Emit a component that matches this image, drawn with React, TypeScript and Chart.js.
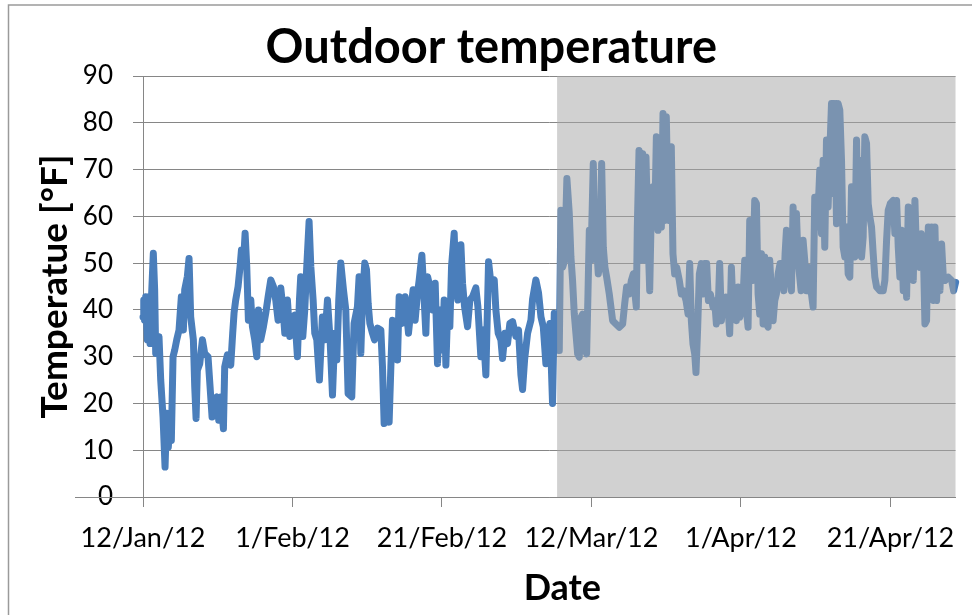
import { useEffect, useRef } from 'react';
import { Chart, registerables } from 'chart.js';

Chart.register(...registerables);

// Days since 12/Jan/12
const days = [
  0.0, 0.1, 0.2, 0.36, 0.58, 0.8, 0.94, 1.12, 1.38, 1.56,
  1.7, 1.92, 2.14, 2.37, 2.68, 2.95, 3.17, 3.39, 3.61, 3.79,
  4.02, 4.24, 4.51, 4.82, 5.13, 5.4, 5.58, 5.93, 6.16, 6.38,
  6.74, 6.92, 7.1, 7.27, 7.59, 7.95, 8.25, 8.7, 8.97, 9.24,
  9.51, 9.86, 10.13, 10.4, 10.76, 10.93, 11.29, 11.74, 12.0, 12.18,
  12.4, 12.72, 12.99, 13.17, 13.44, 13.66, 13.88, 14.1, 14.42, 14.64,
  14.95, 15.22, 15.44, 15.75, 16.11, 16.42, 16.74, 17.09, 17.45, 17.76,
  18.07, 18.43, 18.74, 18.97, 19.32, 19.64, 19.99, 20.3, 20.66, 20.93,
  21.1, 21.38, 21.64, 21.91, 22.22, 22.45, 22.76, 22.98, 23.25, 23.6,
  24.0, 24.32, 24.68, 25.03, 25.35, 25.66, 25.93, 26.19, 26.46, 26.82,
  27.13, 27.44, 27.93, 28.24, 28.69, 28.91, 29.14, 29.36, 29.67, 29.9,
  30.12, 30.35, 30.7, 30.97, 31.37, 31.82, 32.04, 32.26, 32.58, 32.93,
  33.16, 33.38, 33.73, 34.05, 34.27, 34.63, 35.07, 35.52, 35.83, 36.14,
  36.41, 36.73, 36.95, 37.31, 37.62, 37.84, 38.07, 38.38, 38.73, 39.09,
  39.4, 39.71, 40.07, 40.29, 40.52, 40.79, 41.05, 41.28, 41.63, 41.86,
  42.12, 42.53, 42.75, 43.02, 43.42, 43.73, 44.09, 44.53, 44.8, 45.2,
  45.51, 45.87, 46.23, 46.54, 46.99, 47.21, 47.52, 47.88, 48.1, 48.42,
  48.77, 49.08, 49.44, 49.89, 50.24, 50.56, 50.78, 51.05, 51.45, 51.9,
  52.12, 52.56, 52.92, 53.24, 53.55, 53.9, 54.17, 54.44, 54.79, 55.02,
  55.24, 55.69, 55.91, 56.14, 56.41, 56.71, 57.03, 57.25, 57.47, 57.7,
  57.92, 58.15, 58.37, 58.59, 58.82, 59.04, 59.35, 59.53, 59.71, 59.93,
  60.24, 60.47, 60.69, 60.91, 61.13, 61.36, 61.58, 61.8, 62.03, 62.38,
  62.83, 63.27, 63.72, 64.17, 64.44, 64.7, 65.06, 65.33, 65.6, 65.82,
  66.0, 66.13, 66.36, 66.62, 66.85, 67.07, 67.29, 67.52, 67.79, 68.01,
  68.23, 68.45, 68.68, 68.9, 69.12, 69.35, 69.57, 69.79, 70.01, 70.24,
  70.46, 70.68, 70.9, 71.13, 71.4, 71.75, 72.02, 72.29, 72.65, 72.92,
  73.14, 73.36, 73.58, 73.81, 73.98, 74.21, 74.43, 74.7, 74.92, 75.14,
  75.41, 75.64, 75.9, 76.26, 76.48, 76.71, 76.93, 77.15, 77.38, 77.64,
  78.0, 78.27, 78.49, 78.72, 78.94, 79.16, 79.38, 79.61, 79.83, 80.24,
  80.5, 80.73, 80.95, 81.17, 81.57, 81.84, 82.07, 82.29, 82.51, 82.74,
  82.96, 83.18, 83.41, 83.63, 83.85, 84.08, 84.3, 84.52, 84.74, 84.97,
  85.23, 85.5, 85.73, 85.9, 86.08, 86.31, 86.53, 86.75, 86.97, 87.2,
  87.42, 87.64, 88.04, 88.31, 88.53, 88.76, 88.98, 89.2, 89.43, 89.65,
  89.87, 90.1, 90.32, 90.54, 90.77, 90.99, 91.21, 91.44, 91.66, 91.88,
  92.11, 92.33, 92.55, 92.78, 93.0, 93.22, 93.45, 93.67, 93.89, 94.12,
  94.34, 94.56, 94.79, 95.01, 95.23, 95.46, 95.68, 95.9, 96.13, 96.35,
  96.57, 96.8, 97.02, 97.24, 97.47, 97.69, 97.91, 98.14, 98.58, 99.03,
  99.25, 99.48, 99.7, 99.97, 100.37, 100.59, 100.82, 101.04, 101.26, 101.49,
  101.71, 101.93, 102.16, 102.38, 102.6, 102.83, 103.05, 103.27, 103.5, 103.9,
  104.12, 104.39, 104.61, 104.83, 105.06, 105.28, 105.5, 105.73, 105.95, 106.17,
  106.4, 106.62, 106.84, 107.07, 107.33, 107.73, 108.18, 108.45, 108.72, 108.95,
];

// Outdoor temperature, °F
const temps = [
  38.5, 42.1, 37.8, 42.8, 33.6, 42.8, 32.8, 42.1, 52.1, 44.3,
  30.7, 32.8, 34.3, 25.0, 17.1, 6.4, 17.9, 10.7, 17.1, 12.1,
  30.0, 31.4, 33.6, 35.7, 42.8, 35.7, 44.3, 47.1, 51.0, 38.5,
  33.6, 23.6, 16.8, 27.1, 28.5, 33.6, 30.7, 30.0, 23.6, 17.1,
  20.7, 21.4, 16.4, 21.4, 14.6, 27.8, 30.4, 28.2, 35.0, 39.3,
  42.1, 45.0, 49.3, 52.8, 50.0, 56.4, 49.3, 37.8, 42.1, 36.4,
  33.6, 30.0, 40.0, 33.6, 36.4, 39.3, 42.8, 46.4, 45.0, 42.1,
  37.8, 44.7, 40.0, 35.0, 42.1, 34.3, 37.1, 38.9, 30.0, 42.1,
  47.1, 34.3, 40.0, 49.3, 58.9, 49.3, 42.1, 35.0, 33.6, 25.0,
  38.5, 33.6, 42.1, 33.6, 21.8, 35.0, 29.3, 42.1, 50.0, 44.3,
  40.0, 22.1, 21.4, 37.1, 40.7, 47.1, 30.7, 42.1, 50.0, 48.6,
  41.4, 37.1, 35.0, 33.6, 36.1, 35.7, 27.8, 15.7, 19.3, 16.0,
  27.8, 37.8, 35.0, 29.3, 42.8, 37.1, 42.8, 35.0, 40.0, 44.3,
  37.8, 43.6, 46.4, 51.7, 42.1, 35.0, 47.1, 45.0, 40.0, 45.7,
  28.5, 40.0, 31.4, 42.1, 28.2, 41.4, 36.4, 49.3, 56.4, 45.7,
  42.1, 53.9, 45.7, 40.7, 36.4, 42.1, 42.8, 44.7, 40.7, 30.0,
  35.7, 26.1, 50.3, 45.7, 46.4, 40.0, 35.0, 33.6, 29.6, 35.0,
  32.8, 37.1, 37.5, 34.3, 35.7, 26.1, 23.0, 29.3, 35.0, 37.8,
  42.3, 46.4, 43.6, 38.5, 36.4, 28.5, 35.0, 37.1, 20.0, 39.3,
  38.0, 31.3, 61.3, 49.1, 50.6, 68.1, 60.6, 51.3, 46.3, 39.1,
  34.9, 30.6, 29.9, 38.4, 39.1, 32.7, 30.6, 43.4, 57.0, 50.6,
  71.3, 54.1, 53.4, 47.7, 49.9, 71.3, 53.4, 49.1, 47.0, 43.4,
  37.7, 37.0, 36.3, 37.0, 41.3, 44.9, 43.4, 46.3, 47.7, 43.4,
  40.6, 57.7, 74.1, 50.6, 73.4, 50.6, 72.7, 57.7, 44.1, 62.0,
  66.3, 57.7, 77.0, 57.0, 75.6, 57.7, 82.0, 59.1, 81.3, 62.7,
  59.1, 74.9, 52.0, 47.7, 49.1, 46.3, 43.4, 44.1, 42.0, 39.1,
  49.9, 37.7, 32.7, 30.6, 26.6, 36.3, 47.7, 49.9, 43.4, 49.9,
  49.9, 42.0, 43.4, 40.6, 42.0, 37.0, 39.1, 49.9, 37.7, 42.0,
  42.7, 40.6, 34.9, 49.1, 39.9, 44.1, 37.7, 44.9, 38.4, 41.3,
  50.6, 39.9, 36.3, 59.1, 46.3, 63.4, 62.7, 43.4, 39.1, 52.0,
  37.0, 51.3, 37.0, 36.3, 50.6, 43.4, 37.7, 42.0, 43.4, 47.7,
  49.9, 49.9, 44.1, 52.0, 57.0, 50.6, 47.0, 44.1, 62.0, 50.6,
  60.6, 50.6, 44.1, 54.9, 50.6, 44.1, 49.1, 44.1, 43.4, 40.6,
  64.1, 57.7, 61.3, 69.9, 56.3, 72.0, 53.4, 76.3, 62.0, 73.4,
  84.1, 64.9, 84.1, 58.4, 84.1, 82.7, 72.0, 53.4, 51.3, 57.7,
  47.7, 47.0, 66.3, 53.4, 51.3, 76.3, 56.3, 72.0, 51.3, 55.6,
  77.0, 75.6, 62.7, 59.9, 57.7, 52.0, 47.0, 44.9, 44.1, 44.1,
  46.3, 54.9, 61.3, 62.7, 63.4, 56.3, 63.4, 53.4, 47.0, 57.0,
  44.1, 52.0, 42.7, 62.0, 52.0, 59.9, 46.3, 63.4, 50.6, 49.1,
  56.3, 53.4, 37.0, 37.7, 57.7, 42.7, 57.7, 42.0, 57.7, 42.0,
  52.0, 44.1, 54.1, 47.0, 46.3, 47.0, 46.3, 44.1, 45.9, 45.5,
];

const tickDays = [0, 20, 40, 60, 80, 100];
const tickLabels = ['12/Jan/12', '1/Feb/12', '21/Feb/12', '12/Mar/12', '1/Apr/12', '21/Apr/12'];
const yTicks = [0, 10, 20, 30, 40, 50, 60, 70, 80, 90];
const xMinDay = 0;
const xMaxDay = 108.7;
const shadeStartDay = 55.4;

export default function App() {
  const ref = useRef<HTMLCanvasElement>(null);

  useEffect(() => {
    if (!ref.current) return;
    const n = Math.min(days.length, temps.length);
    const points = [];
    for (let i = 0; i < n; i++) points.push({ x: days[i], y: temps[i] });

    const framePlugin = {
      id: 'frame',
      beforeDraw(chart: any) {
        const { ctx, width, height } = chart;
        ctx.save();
        ctx.strokeStyle = '#9a9a9a';
        ctx.lineWidth = 1.5;
        ctx.beginPath();
        ctx.moveTo(8.5, height);
        ctx.lineTo(8.5, 5);
        ctx.lineTo(width, 5);
        ctx.stroke();
        ctx.restore();
      },
      afterDraw(chart: any) {
        const { ctx, chartArea } = chart;
        const y0 = Math.round(chart.scales.y.getPixelForValue(0)) + 0.5;
        ctx.save();
        ctx.strokeStyle = '#868686';
        ctx.lineWidth = 1;
        ctx.beginPath();
        ctx.moveTo(chartArea.left - 68, y0);
        ctx.lineTo(chartArea.left, y0);
        ctx.stroke();
        ctx.restore();
      },
    };

    const shadePlugin = {
      id: 'shade',
      afterDatasetsDraw(chart: any) {
        const { ctx, chartArea } = chart;
        const x0 = chart.scales.x.getPixelForValue(shadeStartDay);
        ctx.save();
        ctx.fillStyle = 'rgba(166,166,166,0.52)';
        ctx.fillRect(x0, chartArea.top, chartArea.right - x0, chartArea.bottom - chartArea.top);
        ctx.restore();
      },
    };

    const chart = new Chart(ref.current, {
      type: 'line',
      data: {
        datasets: [
          {
            label: 'Outdoor temperature',
            data: points,
            borderColor: '#4a7ebb',
            backgroundColor: '#4a7ebb',
            borderWidth: 7,
            pointRadius: 0,
            tension: 0,
            borderCapStyle: 'round',
            borderJoinStyle: 'round',
            clip: false as any,
          },
        ],
      },
      options: {
        animation: false,
        responsive: false,
        maintainAspectRatio: false,
        devicePixelRatio: 1,
        layout: { padding: { left: 27, right: 16.5, top: 0, bottom: 0 } },
        font: { family: 'Lato' } as any,
        plugins: {
          legend: { display: false },
          tooltip: { enabled: false },
          title: {
            display: true,
            text: 'Outdoor temperature',
            color: '#000',
            font: { family: 'Lato', size: 47, weight: 'bold', lineHeight: 1 },
            padding: { top: 24, bottom: 5 },
          },
        },
        scales: {
          x: {
            type: 'linear',
            min: xMinDay,
            max: xMaxDay,
            afterBuildTicks: (s: any) => {
              s.ticks = tickDays.map((v) => ({ value: v }));
            },
            afterFit: (s: any) => {
              s.height = 118;
            },
            ticks: {
              autoSkip: false,
              maxRotation: 0,
              padding: 15,
              color: '#000',
              font: { family: 'Lato', size: 27 },
              callback: (_v: any, i: number) => tickLabels[i],
            },
            grid: { drawOnChartArea: false, drawTicks: true, tickLength: 10, color: '#868686' },
            border: { color: '#868686' },
            title: {
              display: true,
              text: '   Date',
              color: '#000',
              font: { family: 'Lato', size: 36, weight: 'bold', lineHeight: 1 },
              padding: { top: 0, bottom: 9 },
            },
          },
          y: {
            min: 0,
            max: 90,
            afterBuildTicks: (s: any) => {
              s.ticks = yTicks.map((v) => ({ value: v }));
            },
            afterFit: (s: any) => {
              s.width = 116;
            },
            ticks: {
              padding: 20,
              color: '#000',
              font: { family: 'Lato', size: 26 },
            },
            grid: { color: '#868686', tickLength: 10, lineWidth: 1 },
            border: { color: '#868686' },
            title: {
              display: true,
              text: 'Temperatue [°F]',
              color: '#000',
              font: { family: 'Lato', size: 37, weight: 'bold', lineHeight: 1 },
              padding: { top: 10, bottom: 0 },
            },
          },
        },
      },
      plugins: [framePlugin, shadePlugin],
    });

    return () => chart.destroy();
  }, []);

  return (
    <div style={{ position: 'absolute', left: 0, top: 0, width: 972, height: 615, background: '#fff' }}>
      <canvas ref={ref} width={972} height={615} style={{ display: 'block', width: 972, height: 615 }} />
    </div>
  );
}
